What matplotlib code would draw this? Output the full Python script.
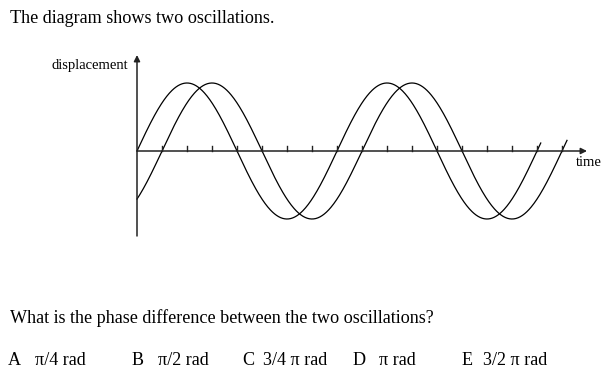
import numpy as np
import matplotlib
matplotlib.use("Agg")
import matplotlib.pyplot as plt

plt.rcParams['font.family'] = ['Liberation Serif', 'DejaVu Serif']

# oscillation parameters (time in tick units)
period = 8.0
amplitude = 1.0
lag_a = 0.0      # leading wave starts at origin
lag_b = 1.0      # second wave lags by one tick
end_a = 16.15
end_b = 17.2
tick_times = list(range(1, 18))

title = "The diagram shows two oscillations."
question = "What is the phase difference between the two oscillations?"
option_letters = ["A", "B", "C", "D", "E"]
option_texts = ["\u03c0/4 rad", "\u03c0/2 rad", "3/4 \u03c0 rad", "\u03c0 rad", "3/2 \u03c0 rad"]
letter_x = [8, 132, 242, 353, 462]
text_x = [35, 158, 263, 379, 483]

W, H = 607, 382
fig = plt.figure(figsize=(W / 100, H / 100), dpi=100)

# diagram axes placed in pixels: x 137..587, y 55..236
x0, x1, ytop, ybot = 137, 587, 55, 236
ax = fig.add_axes([x0 / W, (H - ybot) / H, (x1 - x0) / W, (ybot - ytop) / H])
ax.set_xlim(0, 18)
ax.set_ylim(-(ybot - 151) / 68, (151 - ytop) / 68)
ax.axis('off')

ta = np.linspace(0, end_a, 600)
tb = np.linspace(0, end_b, 600)
ax.plot(ta, amplitude * np.sin(2 * np.pi * (ta - lag_a) / period), color='black', lw=0.9, clip_on=False)
ax.plot(tb, amplitude * np.sin(2 * np.pi * (tb - lag_b) / period), color='black', lw=0.9, clip_on=False)

ylo, yhi = ax.get_ylim()
# axes with arrows
ax.annotate('', xy=(18, 0), xytext=(0, 0),
            arrowprops=dict(arrowstyle='-|>', color='#222222', lw=1.1, mutation_scale=9,
                            shrinkA=0, shrinkB=0), annotation_clip=False)
ax.annotate('', xy=(0, yhi), xytext=(0, ylo),
            arrowprops=dict(arrowstyle='-|>', color='#222222', lw=1.1, mutation_scale=9,
                            shrinkA=0, shrinkB=0), annotation_clip=False)
for t in tick_times:
    ax.plot([t, t], [0, 0.07], color='#222222', lw=1.0, clip_on=False)

fig.text(128 / W, 1 - 66 / H, "displacement", fontsize=10.5, ha='right', va='center')
fig.text(576 / W, 1 - 163 / H, "time", fontsize=10.5, ha='left', va='center')

fig.text(10 / W, 1 - 23 / H, title, fontsize=13.1, ha='left', va='baseline')
fig.text(10 / W, 1 - 323 / H, question, fontsize=13.1, ha='left', va='baseline')
for lx, tx, l, s in zip(letter_x, text_x, option_letters, option_texts):
    fig.text(lx / W, 1 - 365 / H, l, fontsize=13.1, ha='left', va='baseline')
    fig.text(tx / W, 1 - 365 / H, s, fontsize=13.1, ha='left', va='baseline')

fig.savefig('out.png', dpi=100)
